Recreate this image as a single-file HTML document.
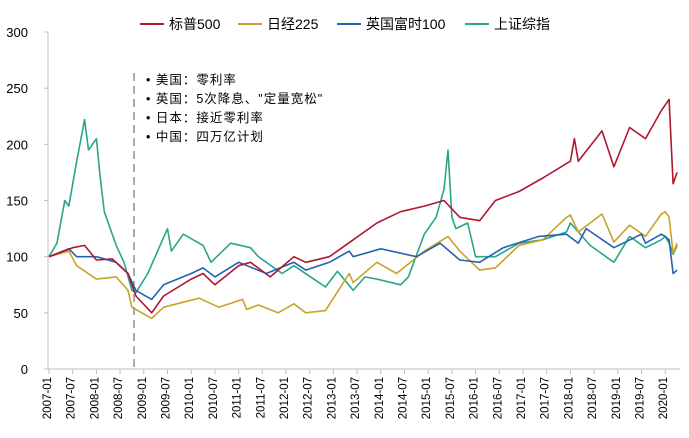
<!DOCTYPE html>
<html><head><meta charset="utf-8"><style>
body{margin:0;background:#fff;}
svg{display:block;font-family:"Liberation Sans","Noto Sans CJK SC",sans-serif;}
</style></head><body>
<svg id="chart" width="689" height="438"></svg>
<script>
const tickYears=["2007-01","2007-07","2008-01","2008-07","2009-01","2009-07","2010-01","2010-07","2011-01","2011-07","2012-01","2012-07","2013-01","2013-07","2014-01","2014-07","2015-01","2015-07","2016-01","2016-07","2017-01","2017-07","2018-01","2018-07","2019-01","2019-07","2020-01"];
const yTicks=[0,50,100,150,200,250,300];
const spxMonths=[0,6,9,12,16,20,22,26,29,36,39,42,48,51,56,62,65,71,77,83,89,95,100,104,109,113,119,125,132,133,134,140,143,147,151,155,157,158,159];
const spxValues=[100,108,110,97,98,85,65,50,65,80,85,75,92,95,82,100,95,100,115,130,140,145,150,135,132,150,158,170,185,205,185,212,180,215,205,230,240,165,175];
const nkMonths=[0,5,7,12,17,20,21,26,29,38,43,49,50,53,58,62,65,70,76,77,83,88,95,101,104,109,113,119,125,131,132,134,140,143,147,151,155,156,157,158,159];
const nkValues=[100,105,92,80,82,70,55,45,55,63,55,62,53,57,50,58,50,52,85,77,95,85,105,118,105,88,90,110,115,135,137,122,138,113,128,118,138,140,135,103,112];
const ukMonths=[0,5,7,12,17,20,22,26,29,36,39,42,48,55,62,65,71,76,77,84,93,99,104,109,115,124,131,134,136,143,150,151,155,156,157,158,159];
const ukValues=[100,107,100,100,95,85,70,62,75,85,90,82,95,85,95,88,95,105,100,107,100,112,97,95,108,118,120,112,125,108,120,112,120,118,115,85,88];
const shMonths=[0,2,4,5,7,9,10,12,13,14,15,17,19,21,22,25,30,31,34,39,41,46,51,53,59,62,67,70,73,77,80,83,89,91,95,98,100,101,102,103,106,108,113,119,125,131,132,137,143,147,151,155,156,157,158,159];
const shValues=[100,112,150,145,185,222,195,205,170,140,130,110,95,70,68,85,125,105,120,110,95,112,108,100,85,92,80,73,87,70,82,80,75,82,120,135,160,195,135,125,130,100,100,112,115,122,130,110,95,118,108,115,118,112,102,110];

const svg=document.getElementById('chart');
const NS='http://www.w3.org/2000/svg';
const X0=49, XM=3.95, Y0=369, YS=337/300;
function xs(m){return X0+m*XM;}
function ys(v){return Y0-v*YS;}
function mk(tag,attrs,parent){const e=document.createElementNS(NS,tag);for(const k in attrs)e.setAttribute(k,attrs[k]);(parent||svg).appendChild(e);return e;}

// axes
const yAxis=mk('line',{x1:X0-1,y1:32,x2:X0-1,y2:Y0,stroke:'#bfbfbf','stroke-width':1});


const xAxis=mk('line',{x1:X0-1,y1:Y0,x2:680,y2:Y0,stroke:'#bfbfbf','stroke-width':1});


yTicks.forEach(v=>{
  const t=mk('text',{x:28,y:ys(v)+5,'text-anchor':'end','font-size':13,fill:'#000'});
  t.textContent=v;
  
  
  const tk=mk('line',{x1:X0-5,y1:ys(v),x2:X0-1,y2:ys(v),stroke:'#bfbfbf'});
  
  
});
tickYears.forEach((lab,i)=>{
  const x=xs(i*6);
  const tk=mk('line',{x1:x,y1:Y0,x2:x,y2:Y0+5,stroke:'#bfbfbf'});
  
  
  const t=mk('text',{transform:`translate(${x-2+4},${Y0+8}) rotate(-90)`,'text-anchor':'end','font-size':11.5,fill:'#000'});
  t.textContent=lab;
  
  
});

// dashed marker
const dl=mk('line',{x1:134,y1:73,x2:134,y2:Y0,stroke:'#7f7f7f','stroke-width':1.3,'stroke-dasharray':'8,5'});



function series(months,vals,color,name){
  const d=months.map((m,i)=>(i?'L':'M')+xs(m).toFixed(1)+','+ys(vals[i]).toFixed(1)).join('');
  const p=mk('path',{d:d,fill:'none',stroke:color,'stroke-width':1.6,'stroke-linejoin':'round'});
  
  
}
series(shMonths,shValues,'#2aa58a','shanghai-line');
series(nkMonths,nkValues,'#c9a227','nikkei-line');
series(ukMonths,ukValues,'#2563b0','ftse-line');
series(spxMonths,spxValues,'#b0182f','sp500-line');

// annotation
const notes=['•  美国：零利率','•  英国：5次降息、"定量宽松"','•  日本：接近零利率','•  中国：四万亿计划'];
notes.forEach((n,i)=>{
  const t=mk('text',{x:146,y:84+i*19,'font-size':12.5,fill:'#000','letter-spacing':'1'});
  t.textContent=n;
  
  
});

// legend
const leg=[['标普500','#b0182f',140],['日经225','#c9a227',238],['英国富时100','#2563b0',337],['上证综指','#2aa58a',465]];
leg.forEach(l=>{
  const g=mk('g',{});
  
  
  mk('line',{x1:l[2],y1:24,x2:l[2]+24,y2:24,stroke:l[1],'stroke-width':2},g);
  const t=mk('text',{x:l[2]+29,y:29,'font-size':14,fill:'#000'},g);
  t.textContent=l[0];
});
</script>
</body></html>
